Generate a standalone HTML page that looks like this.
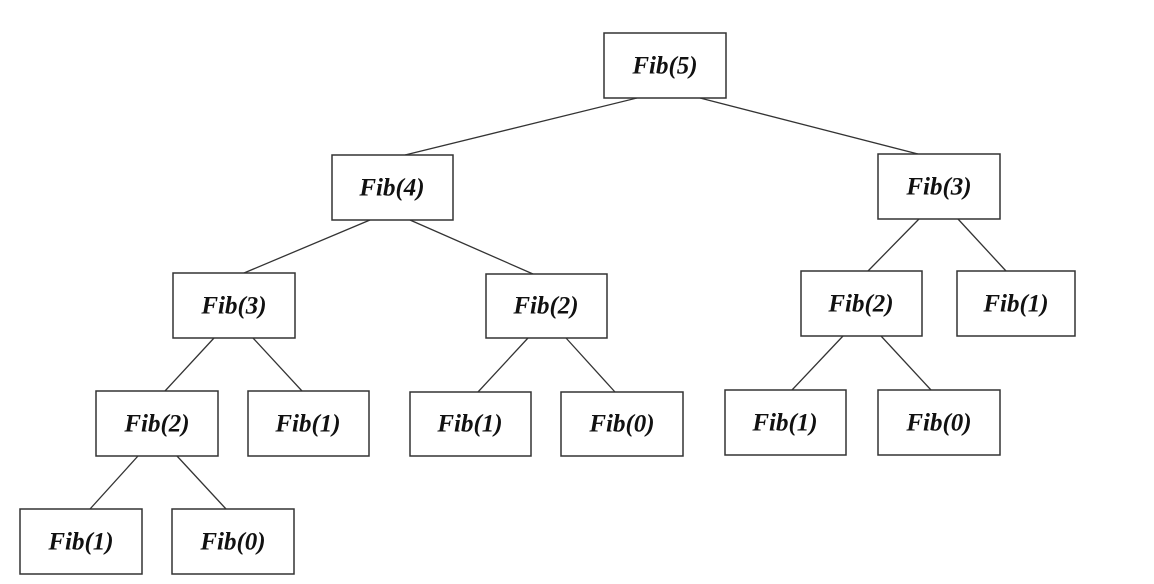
<!DOCTYPE html>
<html><head><meta charset="utf-8"><style>
html,body{margin:0;padding:0;background:#fff;}
svg{display:block}
text{font-family:"Liberation Serif",serif;font-weight:bold;font-style:italic;font-size:25px;fill:#111;text-anchor:middle;dominant-baseline:central}
rect{fill:#fff;stroke:#333;stroke-width:1.5}
line{stroke:#333;stroke-width:1.3}
</style></head><body>
<svg width="1154" height="584" viewBox="0 0 1154 584">
<line x1="637" y1="98" x2="405" y2="155"/>
<line x1="700" y1="98" x2="918" y2="154"/>
<line x1="370" y1="220" x2="244" y2="273"/>
<line x1="410" y1="220" x2="533" y2="274"/>
<line x1="919" y1="219" x2="868" y2="271"/>
<line x1="958" y1="219" x2="1006" y2="271"/>
<line x1="214" y1="338" x2="165" y2="391"/>
<line x1="253" y1="338" x2="302" y2="391"/>
<line x1="528" y1="338" x2="478" y2="392"/>
<line x1="566" y1="338" x2="615" y2="392"/>
<line x1="843" y1="336" x2="792" y2="390"/>
<line x1="881" y1="336" x2="931" y2="390"/>
<line x1="138" y1="456" x2="90" y2="509"/>
<line x1="177" y1="456" x2="226" y2="509"/>
<g>
<rect x="604" y="33" width="122" height="65"/><text x="665" y="66">Fib(5)</text>
<rect x="332" y="155" width="121" height="65"/><text x="392" y="188">Fib(4)</text>
<rect x="878" y="154" width="122" height="65"/><text x="939" y="187">Fib(3)</text>
<rect x="173" y="273" width="122" height="65"/><text x="234" y="306">Fib(3)</text>
<rect x="486" y="274" width="121" height="64"/><text x="546" y="306">Fib(2)</text>
<rect x="801" y="271" width="121" height="65"/><text x="861" y="304">Fib(2)</text>
<rect x="957" y="271" width="118" height="65"/><text x="1016" y="304">Fib(1)</text>
<rect x="96" y="391" width="122" height="65"/><text x="157" y="424">Fib(2)</text>
<rect x="248" y="391" width="121" height="65"/><text x="308" y="424">Fib(1)</text>
<rect x="410" y="392" width="121" height="64"/><text x="470" y="424">Fib(1)</text>
<rect x="561" y="392" width="122" height="64"/><text x="622" y="424">Fib(0)</text>
<rect x="725" y="390" width="121" height="65"/><text x="785" y="423">Fib(1)</text>
<rect x="878" y="390" width="122" height="65"/><text x="939" y="423">Fib(0)</text>
<rect x="20" y="509" width="122" height="65"/><text x="81" y="542">Fib(1)</text>
<rect x="172" y="509" width="122" height="65"/><text x="233" y="542">Fib(0)</text>
</g>
</svg>
</body></html>
